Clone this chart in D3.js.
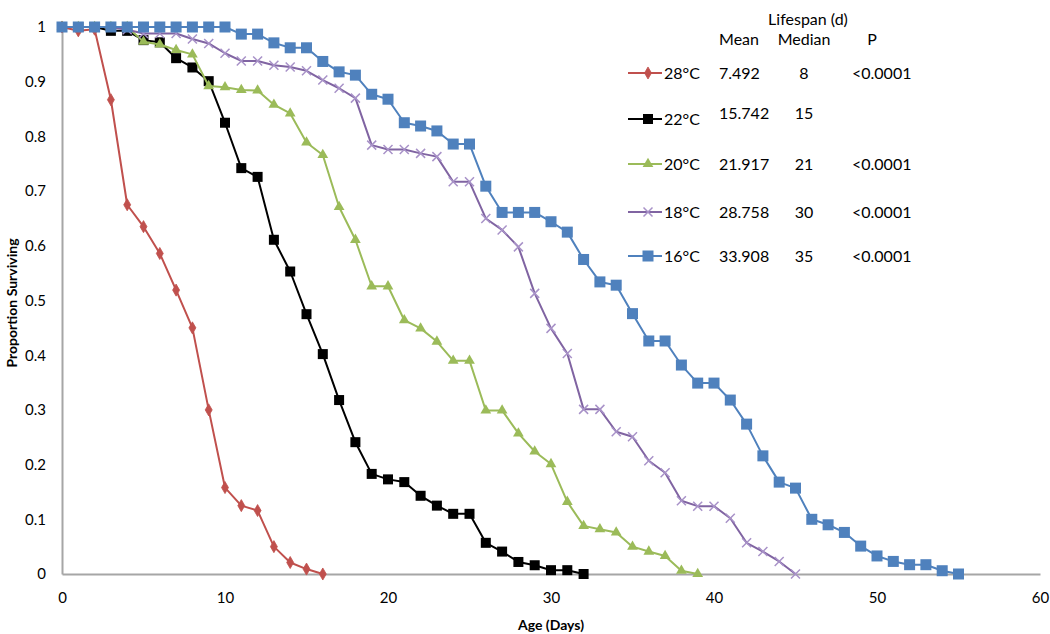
<!DOCTYPE html>
<html><head><meta charset="utf-8">
<script src="https://cdn.jsdelivr.net/npm/d3@7"></script>
<style>body{margin:0;background:#fff}svg{display:block}</style>
</head><body>
<svg id="c" width="1050" height="634"></svg>
<script>
// Proportion surviving, one value per day starting at day 0
const s28 = [1, 0.993, 0.996, 0.867, 0.675, 0.635, 0.586, 0.519, 0.450, 0.300, 0.158, 0.125, 0.116, 0.050, 0.021, 0.009, 0];
const s22 = [1, 1, 1, 0.993, 0.993, 0.976, 0.972, 0.943, 0.926, 0.901, 0.825, 0.742, 0.726, 0.611, 0.553, 0.475, 0.402, 0.318, 0.241, 0.183, 0.173, 0.168, 0.143, 0.125, 0.110, 0.110, 0.057, 0.041, 0.022, 0.016, 0.007, 0.007, 0];
const s20 = [1, 1, 1, 1, 1, 0.973, 0.968, 0.958, 0.950, 0.892, 0.890, 0.885, 0.884, 0.858, 0.842, 0.789, 0.766, 0.671, 0.611, 0.526, 0.526, 0.464, 0.449, 0.425, 0.390, 0.390, 0.299, 0.299, 0.257, 0.224, 0.201, 0.132, 0.088, 0.082, 0.076, 0.050, 0.041, 0.033, 0.006, 0];
const s18 = [1, 1, 1, 1, 0.995, 0.988, 0.988, 0.988, 0.978, 0.970, 0.952, 0.938, 0.938, 0.930, 0.927, 0.920, 0.903, 0.888, 0.870, 0.784, 0.776, 0.776, 0.769, 0.763, 0.717, 0.717, 0.650, 0.629, 0.598, 0.513, 0.449, 0.403, 0.301, 0.301, 0.260, 0.251, 0.207, 0.185, 0.134, 0.124, 0.124, 0.102, 0.057, 0.041, 0.023, 0];
const s16 = [1, 1, 1, 1, 1, 1, 1, 1, 1, 1, 1, 0.987, 0.987, 0.971, 0.962, 0.962, 0.937, 0.918, 0.912, 0.877, 0.868, 0.825, 0.819, 0.810, 0.786, 0.786, 0.709, 0.661, 0.661, 0.661, 0.644, 0.625, 0.575, 0.534, 0.528, 0.476, 0.426, 0.426, 0.382, 0.349, 0.349, 0.318, 0.274, 0.216, 0.168, 0.157, 0.100, 0.090, 0.076, 0.051, 0.033, 0.023, 0.017, 0.017, 0.006, 0];

const seriesNames = ["28°C", "22°C", "20°C", "18°C", "16°C"];
const seriesData = [s28, s22, s20, s18, s16];
const meanLife = ["7.492", "15.742", "21.917", "28.758", "33.908"];
const medianLife = ["8", "15", "21", "30", "35"];
const pValues = ["<0.0001", "", "<0.0001", "<0.0001", "<0.0001"];
const xTicks = [0, 10, 20, 30, 40, 50, 60];
const yTicks = [0, 0.1, 0.2, 0.3, 0.4, 0.5, 0.6, 0.7, 0.8, 0.9, 1];

const styles = [
  {color: "#C0504D", marker: "diamond"},
  {color: "#000000", marker: "square"},
  {color: "#9BBB59", marker: "triangle"},
  {color: "#8064A2", marker: "x"},
  {color: "#4F81BD", marker: "bigsquare"}
];

const FONT = "Lato, 'Open Sans', sans-serif";
const svg = d3.select("#c");
const x = d3.scaleLinear().domain([0, 60]).range([62, 1040]);
const y = d3.scaleLinear().domain([0, 1]).range([574, 27]);

// axes
const xAxis = svg.append("g").attr("transform", `translate(0,${y(0)})`)
  .call(d3.axisBottom(x).tickValues(xTicks).tickSize(0).tickPadding(18).tickFormat(d3.format("d")));
const yAxis = svg.append("g").attr("transform", `translate(${x(0)},0)`)
  .call(d3.axisLeft(y).tickValues(yTicks).tickSize(0).tickPadding(16).tickFormat(d => d === 0 || d === 1 ? String(d) : d3.format(".1f")(d)));
[xAxis, yAxis].forEach(g => {
  g.select(".domain").attr("stroke", "#a6a6a6").attr("stroke-width", 2);
  g.selectAll("text").attr("font-family", FONT).attr("font-size", 15).attr("fill", "#000");
});

svg.append("text").attr("x", 551).attr("y", 630).attr("text-anchor", "middle")
  .attr("font-family", FONT).attr("font-weight", "bold").attr("font-size", 14).text("Age (Days)");
svg.append("text").attr("transform", "translate(17,303) rotate(-90)").attr("text-anchor", "middle")
  .attr("font-family", FONT).attr("font-weight", "bold").attr("font-size", 14).text("Proportion Surviving");

function drawMarker(g, type, color, cx, cy) {
  if (type === "diamond") {
    g.append("path").attr("d", d3.symbol(d3.symbolDiamond, 42)()).attr("transform", `translate(${cx},${cy})`).attr("fill", color).attr("stroke", color).attr("stroke-width", 0.8);
  } else if (type === "square") {
    g.append("rect").attr("x", cx - 5).attr("y", cy - 5).attr("width", 10).attr("height", 10).attr("fill", color);
  } else if (type === "bigsquare") {
    g.append("rect").attr("x", cx - 5.5).attr("y", cy - 5.5).attr("width", 11).attr("height", 11).attr("fill", color);
  } else if (type === "triangle") {
    g.append("path").attr("d", d3.symbol(d3.symbolTriangle, 50)()).attr("transform", `translate(${cx},${cy})`).attr("fill", color);
  } else if (type === "x") {
    g.append("path").attr("d", `M${cx-4.5},${cy-4.5}L${cx+4.5},${cy+4.5}M${cx-4.5},${cy+4.5}L${cx+4.5},${cy-4.5}`)
      .attr("stroke", "#a892c8").attr("stroke-width", 1.5).attr("fill", "none");
  }
}

const line = d3.line().x((d, i) => x(i)).y(d => y(d));
seriesData.forEach((data, k) => {
  const st = styles[k];
  const g = svg.append("g");
  g.append("path").datum(data).attr("d", line).attr("fill", "none").attr("stroke", st.color).attr("stroke-width", 2).attr("stroke-linejoin", "round");
  data.forEach((v, i) => drawMarker(g, st.marker, st.color, x(i), y(v)));
});

// legend table
const lg = svg.append("g").attr("font-family", FONT).attr("font-size", 16).attr("fill", "#000");
lg.append("text").attr("x", 808).attr("y", 25).attr("text-anchor", "middle").text("Lifespan (d)");
lg.append("text").attr("x", 739).attr("y", 45).attr("text-anchor", "middle").text("Mean");
lg.append("text").attr("x", 804).attr("y", 45).attr("text-anchor", "middle").text("Median");
lg.append("text").attr("x", 872).attr("y", 45).attr("text-anchor", "middle").text("P");
const rowY = [73, 119, 164, 212, 256];
const valY = [73, 113, 164, 212, 256];
seriesNames.forEach((name, k) => {
  const st = styles[k];
  const yy = rowY[k];
  lg.append("line").attr("x1", 628).attr("x2", 662).attr("y1", yy).attr("y2", yy).attr("stroke", st.color).attr("stroke-width", 2);
  drawMarker(lg, st.marker, st.color, 648, yy);
  lg.append("text").attr("x", 664).attr("y", yy + 6).text(name);
  lg.append("text").attr("x", 719).attr("y", valY[k] + 6).text(meanLife[k]);
  lg.append("text").attr("x", 804).attr("y", valY[k] + 6).attr("text-anchor", "middle").text(medianLife[k]);
  lg.append("text").attr("x", 852).attr("y", valY[k] + 6).text(pValues[k]);
});
</script>
</body></html>
